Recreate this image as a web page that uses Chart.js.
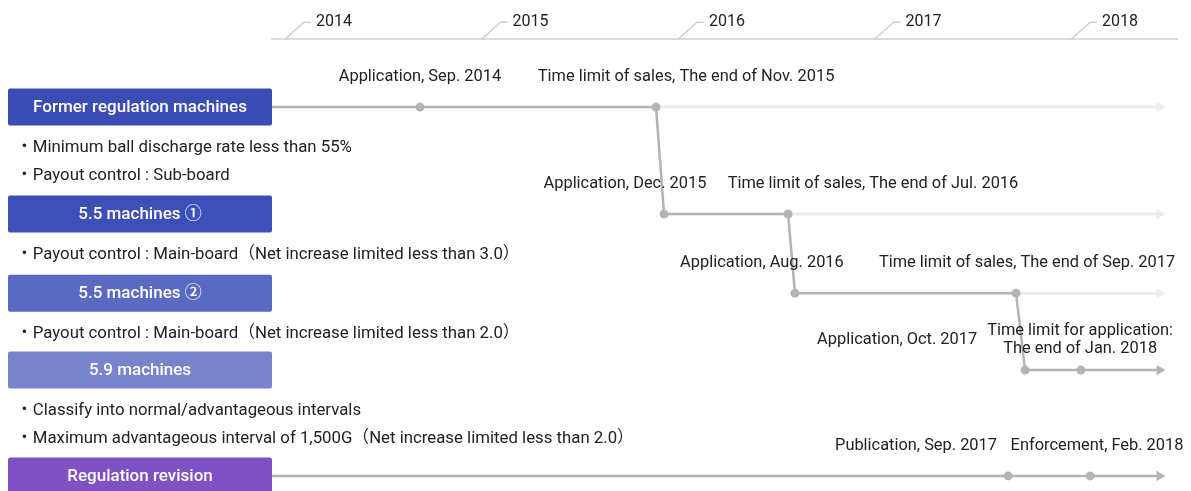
<!DOCTYPE html>
<html>
<head>
<meta charset="utf-8">
<script src="https://cdn.jsdelivr.net/npm/chart.js@4.4.1/dist/chart.umd.min.js"></script>
<style>
    html, body { margin: 0; padding: 0; background: #fff; }
    #wrap { position: relative; width: 1191px; height: 491px; }
</style>
</head>
<body>
<div id="wrap"><canvas id="timeline"></canvas></div>
<script>
// ─── Data ─────────────────────────────────────────────

const years = [2014, 2015, 2016, 2017, 2018];

const lanes = [
    'Former regulation machines',
    '5.5 machines ①',
    '5.5 machines ②',
    '5.9 machines',
    'Regulation revision',
];
// lane position on the vertical axis (text-line units from the top axis)
const laneY = [2.47, 6.36, 9.24, 12.04, 15.89];

const laneNotes = [
    ['・Minimum ball discharge rate less than 55%', '・Payout control : Sub-board'],
    ['・Payout control : Main-board（Net increase limited less than 3.0）'],
    ['・Payout control : Main-board（Net increase limited less than 2.0）'],
    ['・Classify into normal/advantageous intervals', '・Maximum advantageous interval of 1,500G（Net increase limited less than 2.0）'],
    [],
];

// time axis in decimal years
const axisStart = 2013.934;
const axisEnd   = 2018.539;
const arrowEnd  = 2018.45;

// main product path (lane switches produce the slanted connectors)
const pathX    = [axisStart, 2014.687, 2015.888, 2015.929, 2016.560, 2016.595, 2017.720, 2017.766, 2018.050, arrowEnd];
const pathLane = [0, 0, 0, 1, 1, 2, 2, 3, 3, 3];

// faded continuation after each sales limit
const fadeStartX    = [2015.888, 2016.560, 2017.720];
const fadeStartLane = [0, 1, 2];

// regulation revision lane
const revisionX = [axisStart, 2017.680, 2018.097, arrowEnd];

// event captions
const eventText = [
    ['Application, Sep. 2014'],
    ['Time limit of sales, The end of Nov. 2015'],
    ['Application, Dec. 2015'],
    ['Time limit of sales, The end of Jul. 2016'],
    ['Application, Aug. 2016'],
    ['Time limit of sales, The end of Sep. 2017'],
    ['Application, Oct. 2017'],
    ['Time limit for application:', 'The end of Jan. 2018'],
    ['Publication, Sep. 2017'],
    ['Enforcement, Feb. 2018'],
];
const eventX    = [2014.687, 2016.041, 2015.730, 2016.992, 2016.427, 2017.776, 2017.115, 2018.046, 2017.211, 2018.132];
const eventLane = [0, 0, 1, 1, 2, 2, 3, 3, 4, 4];

// ─── Styles ───────────────────────────────────────────

const FONT      = "Roboto, 'Noto Sans CJK JP', sans-serif";
const INK       = '#222';
const LINE_DARK = '#b4b4b4';
const LINE_FADE = '#ececec';
const laneColors = ['#3a4db5', '#3d50b8', '#5a69c2', '#7884cc', '#7e52c4'];

function _endpointStyle(color, radius) {
    return {
        pointStyle:      ctx => ctx.dataIndex === ctx.dataset.data.length - 1 ? 'triangle' : 'circle',
        pointRotation:   ctx => ctx.dataIndex === ctx.dataset.data.length - 1 ? 90 : 0,
        pointRadius:     ctx => {
            const last = ctx.dataset.data.length - 1;
            if (ctx.dataIndex === 0) return 0;
            return ctx.dataIndex === last ? 6 : radius;
        },
        pointBackgroundColor: color,
        pointBorderWidth: 0,
        pointHoverRadius: 0,
    };
}

// ─── Datasets ─────────────────────────────────────────

const datasets = [];

datasets.push({
    data: pathX.map((x, i) => ({ x, y: laneY[pathLane[i]] })),
    borderColor: LINE_DARK,
    borderWidth: 2.5,
    ..._endpointStyle(LINE_DARK, 4.5),
});

datasets.push({
    data: revisionX.map(x => ({ x, y: laneY[4] })),
    borderColor: LINE_DARK,
    borderWidth: 2.5,
    ..._endpointStyle(LINE_DARK, 4.5),
});

fadeStartX.forEach((x0, i) => {
    datasets.push({
        data: [{ x: x0, y: laneY[fadeStartLane[i]] }, { x: arrowEnd, y: laneY[fadeStartLane[i]] }],
        borderColor: LINE_FADE,
        borderWidth: 3,
        ..._endpointStyle(LINE_FADE, 0),
    });
});

// ─── Decorations: year slashes, lane boxes, notes, captions ───

const decorPlugin = {
    id: 'timelineDecor',
    afterDraw(chart) {
        const { ctx, chartArea, scales: { x, y } } = chart;
        ctx.save();

        // year tick slashes on the top axis
        const axisY = chartArea.top;
        ctx.strokeStyle = '#cfcfcf';
        ctx.lineWidth = 1.5;
        years.forEach(yr => {
            const px = x.getPixelForValue(yr);
            ctx.beginPath();
            ctx.moveTo(px, axisY);
            ctx.lineTo(px + 19, axisY - 17);
            ctx.lineTo(px + 26, axisY - 17);
            ctx.stroke();
        });

        // lane boxes + notes
        const boxL = 8, boxR = chartArea.left;
        lanes.forEach((name, i) => {
            const cy = y.getPixelForValue(laneY[i]);
            ctx.fillStyle = laneColors[i];
            ctx.beginPath();
            ctx.roundRect(boxL, cy - 18.5, boxR - boxL, 37, 2);
            ctx.fill();

            ctx.fillStyle = '#fff';
            ctx.font = `500 17px ${FONT}`;
            ctx.textAlign = 'center';
            ctx.textBaseline = 'middle';
            ctx.fillText(name, (boxL + boxR) / 2, cy + 1);

            ctx.fillStyle = INK;
            ctx.font = `16.8px ${FONT}`;
            ctx.textAlign = 'left';
            laneNotes[i].forEach((note, j) => {
                ctx.fillText(note, 16, cy + 41 + j * 27.5);
            });
        });

        // event captions
        ctx.fillStyle = INK;
        ctx.font = `16.4px ${FONT}`;
        ctx.textAlign = 'center';
        ctx.textBaseline = 'middle';
        eventText.forEach((lines, i) => {
            const px = x.getPixelForValue(eventX[i]);
            const base = y.getPixelForValue(laneY[eventLane[i]]) - 30;
            const lh = 18;
            lines.forEach((t, j) => {
                ctx.fillText(t, px, base + (j - (lines.length - 1) / 2) * lh);
            });
        });

        ctx.restore();
    },
};

// ─── Chart ────────────────────────────────────────────

new Chart(document.getElementById('timeline').getContext('2d'), {
    type: 'scatter',
    data: { datasets },
    options: {
        responsive: true,
        maintainAspectRatio: false,
        animation: false,
        showLine: true,
        elements: { line: { tension: 0, borderCapStyle: 'butt' } },
        layout: { autoPadding: false, padding: { left: 272, right: 14, top: 4, bottom: 0 } },
        plugins: {
            legend:  { display: false },
            tooltip: { enabled: false },
        },
        scales: {
            x: {
                type: 'linear',
                position: 'top',
                min: axisStart,
                max: axisEnd,
                grid:   { display: false, drawTicks: false },
                border: { display: true, color: '#dcdcdc', width: 2 },
                afterBuildTicks: s => { s.ticks = years.map(v => ({ value: v })); },
                ticks: {
                    autoSkip: false,
                    maxRotation: 0,
                    align: 'start',
                    labelOffset: 31,
                    padding: 8,
                    color: INK,
                    font: { family: FONT, size: 16 },
                    callback: v => String(v),
                },
            },
            y: {
                type: 'linear',
                display: false,
                reverse: true,
                min: 0,
                max: 16.44,
            },
        },
    },
    plugins: [decorPlugin],
});
</script>
</body>
</html>
